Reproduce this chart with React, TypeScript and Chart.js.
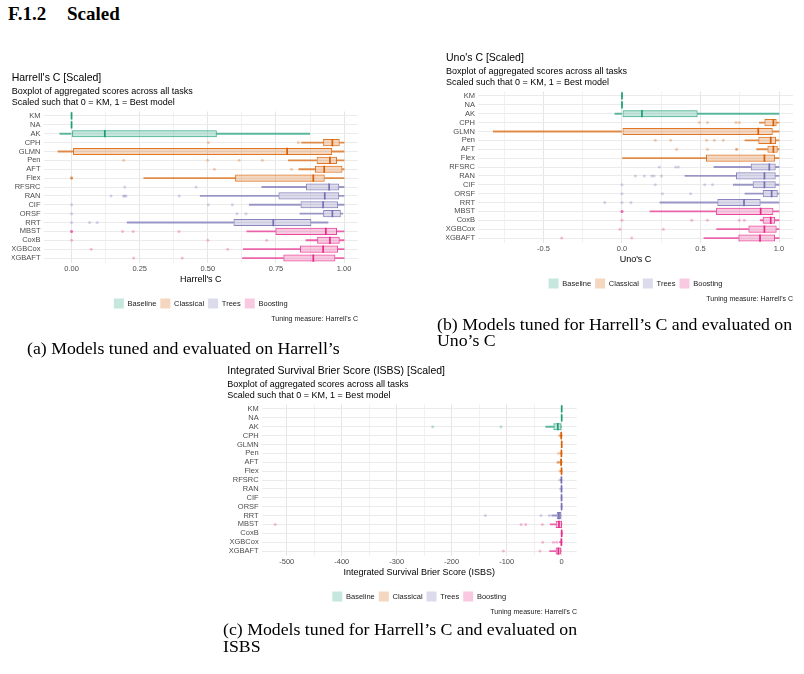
import React, { useEffect, useRef } from 'react';
import { Chart, registerables } from 'chart.js';

Chart.register(...registerables);

const SANS = "'Liberation Sans', Arial, Helvetica, sans-serif";
const SERIF = "'Liberation Serif', 'Times New Roman', serif";

// ---------- shared categories ----------
const models = ['KM', 'NA', 'AK', 'CPH', 'GLMN', 'Pen', 'AFT', 'Flex', 'RFSRC', 'RAN', 'CIF', 'ORSF', 'RRT', 'MBST', 'CoxB', 'XGBCox', 'XGBAFT'];
const modelGroups = ['Baseline', 'Baseline', 'Baseline', 'Classical', 'Classical', 'Classical', 'Classical', 'Classical', 'Trees', 'Trees', 'Trees', 'Trees', 'Trees', 'Boosting', 'Boosting', 'Boosting', 'Boosting'];
const groupNames = ['Baseline', 'Classical', 'Trees', 'Boosting'];
const groupColors = ['#1B9E77', '#D95F02', '#7570B3', '#E7298A'];

// ---------- (a) Harrell's C ----------
const harrellLow = [0, 0, -0.043, 0.844, -0.05, 0.795, 0.834, 0.265, 0.698, 0.472, 0.652, 0.838, 0.204, 0.643, 0.86, 0.63, 0.627];
const harrellQ1 = [0, 0, 0, 0.923, 0.005, 0.899, 0.893, 0.6, 0.86, 0.759, 0.84, 0.923, 0.594, 0.748, 0.901, 0.838, 0.777];
const harrellMedian = [0, 0, 0.122, 0.957, 0.791, 0.948, 0.927, 0.887, 0.945, 0.929, 0.923, 0.957, 0.74, 0.933, 0.948, 0.923, 0.887];
const harrellQ3 = [0, 0, 0.533, 0.984, 0.956, 0.974, 0.994, 0.929, 0.982, 0.982, 0.978, 0.988, 0.88, 0.974, 0.984, 0.978, 0.968];
const harrellHigh = [0, 0, 0.874, 1, 1, 1, 1, 1, 1, 1, 1, 0.995, 0.941, 1, 1, 1, 1];
const harrellOutliers = [[], [], [], [0.502, 0.832], [], [0.191, 0.499, 0.615, 0.7], [0.524, 0.807], [0, 0, 0], [0.195, 0.457], [0.145, 0.19, 0.195, 0.2, 0.395], [0, 0.502, 0.59], [0, 0.607, 0.64], [0, 0.066, 0.094], [0, 0, 0, 0.187, 0.226, 0.394], [0, 0.5, 0.716], [0.072, 0.573], [0.228, 0.406]];
const harrellMajorTicks = [0, 0.25, 0.5, 0.75, 1];
const harrellMinorTicks = [0.125, 0.375, 0.625, 0.875];
const harrellTickLabels = ['0.00', '0.25', '0.50', '0.75', '1.00'];

// ---------- (b) Uno's C ----------
const unoLow = [0, 0, -0.045, 0.875, -0.82, 0.783, 0.858, 0, 0.586, 0.401, 0.709, 0.783, 0.242, 0.178, 0.88, 0.603, 0.522];
const unoQ1 = [0, 0, 0, 0.907, 0, 0.868, 0.926, 0.535, 0.82, 0.726, 0.832, 0.896, 0.607, 0.599, 0.896, 0.805, 0.741];
const unoMedian = [0, 0, 0.127, 0.964, 0.868, 0.947, 0.964, 0.907, 0.938, 0.907, 0.907, 0.953, 0.777, 0.883, 0.947, 0.907, 0.879];
const unoQ3 = [0, 0, 0.482, 0.985, 0.96, 0.981, 0.992, 0.975, 0.979, 0.979, 0.979, 0.992, 0.883, 0.964, 0.975, 0.985, 0.975];
const unoHigh = [0, 0, 1, 1, 1, 1, 1, 1, 1, 1, 1, 1, 1, 1, 1, 1, 1];
const unoOutliers = [[], [], [], [0.493, 0.544, 0.726, 0.747], [], [0.212, 0.31, 0.539, 0.588, 0.645], [0.348, 0.544, 0.73, 0.73], [], [0.238, 0.342, 0.359], [0.085, 0.142, 0.189, 0.204, 0.251], [0, 0.212, 0.527, 0.577], [0, 0.257, 0.437], [-0.11, 0, 0.057], [0, 0, 0], [0, 0.444, 0.544, 0.747, 0.779], [-0.013, 0.263], [-0.384, 0.062]];
const unoMajorTicks = [-0.5, 0, 0.5, 1];
const unoMinorTicks = [-0.75, -0.25, 0.25, 0.75];
const unoTickLabels = ['-0.5', '0.0', '0.5', '1.0'];

// ---------- (c) ISBS ----------
const isbsLow = [0, -0.6, -29, -3, -0.5, -2.5, -3.5, -2, -2, -1, -1, -1, -18, -21, -1, -4, -22];
const isbsQ1 = [0, -0.6, -15, -2, -0.3, -1.5, -2.5, -1, -1.2, -0.8, -0.8, -0.8, -9, -11, -0.6, -2, -11];
const isbsMedian = [0, 0, -7, -0.8, 0, -0.5, -1, -0.3, -0.5, -0.3, -0.3, -0.2, -5, -5, 0, -0.5, -6];
const isbsQ3 = [0, 0.3, -0.5, 0, 0.2, 0.3, 0, 0.2, 0.2, 0.2, 0.2, 0.5, -1, 0.5, 0.5, 0.3, -1];
const isbsHigh = [0, 0.3, 0, 0.5, 0.3, 0.5, 0.5, 0.5, 0.5, 0.5, 0.5, 0.8, 0, 0.5, 0.8, 0.5, 0];
const isbsOutliers = [[], [], [-234.5, -110.3], [-4], [], [-5.5], [-7, -6], [-3.5], [-3.5], [-2], [], [], [-138.8, -37.6, -22.4], [-521, -73.9, -65.5, -35.2], [], [-34.5, -15, -9], [-106, -39.4]];
const isbsMajorTicks = [-500, -400, -300, -200, -100, 0];
const isbsMinorTicks = [-450, -350, -250, -150, -50];
const isbsTickLabels = ['-500', '-400', '-300', '-200', '-100', '0'];

const subtitleLines = ['Boxplot of aggregated scores across all tasks', 'Scaled such that 0 = KM, 1 = Best model'];

function rgba(hex: string, a: number) {
  const n = parseInt(hex.slice(1), 16);
  return `rgba(${(n >> 16) & 255},${(n >> 8) & 255},${n & 255},${a})`;
}
function rowColor(i: number) {
  return groupColors[groupNames.indexOf(modelGroups[i])];
}

type Spec = {
  title: string; axisTitle: string;
  low: number[]; q1: number[]; median: number[]; q3: number[]; high: number[]; outliers: number[][];
  min: number; max: number; major: number[]; minor: number[]; tickLabels: string[];
  padL: number; padR: number; yWidth: number;
};

function buildConfig(s: Spec): any {
  const boxData = models.map((_, i) => [s.q1[i], s.q3[i]]);
  const lowData = models.map((_, i) => [s.low[i], s.q1[i]]);
  const highData = models.map((_, i) => [s.q3[i], s.high[i]]);
  const medData = models.map((m, i) => ({ x: s.median[i], y: m }));
  const outData: any[] = [];
  const outColors: string[] = [];
  s.outliers.forEach((arr, i) => arr.forEach((v) => {
    outData.push({ x: v, y: models[i] });
    outColors.push(rgba(rowColor(i), 0.3));
  }));
  const fills = models.map((_, i) => rgba(rowColor(i), 0.25));
  const lines = models.map((_, i) => rgba(rowColor(i), 0.85));
  const whisk = models.map((_, i) => rgba(rowColor(i), 0.7));
  const solid = models.map((_, i) => rowColor(i));
  const allTicks = [...s.major, ...s.minor].sort((a, b) => a - b);

  return {
    type: 'bar',
    data: {
      labels: models,
      datasets: [
        {
          type: 'scatter', data: medData, pointStyle: 'line', pointRotation: 90, pointRadius: 3.6,
          pointBorderWidth: 1.7, pointBorderColor: solid, pointBackgroundColor: solid, showLine: false,
        },
        {
          type: 'bar', data: boxData, backgroundColor: fills, borderColor: lines, borderWidth: 1,
          borderSkipped: false, barPercentage: 0.8, categoryPercentage: 1, grouped: false,
        },
        {
          type: 'bar', data: lowData, backgroundColor: whisk, borderWidth: 0, barThickness: 1.2, grouped: false,
        },
        {
          type: 'bar', data: highData, backgroundColor: whisk, borderWidth: 0, barThickness: 1.2, grouped: false,
        },
        {
          type: 'scatter', data: outData, pointStyle: 'circle', pointRadius: 1.5, pointBorderWidth: 0,
          pointBackgroundColor: outColors, showLine: false,
        },
      ],
    },
    options: {
      indexAxis: 'y',
      responsive: false,
      animation: false,
      devicePixelRatio: 1,
      events: [],
      layout: { padding: { left: s.padL, right: s.padR, top: 0, bottom: 2.4 } },
      scales: {
        x: {
          type: 'linear', min: s.min, max: s.max,
          afterBuildTicks: (scale: any) => { scale.ticks = allTicks.map((v) => ({ value: v })); },
          ticks: {
            autoSkip: false, maxRotation: 0, padding: 2.3, color: '#4d4d4d',
            font: { family: SANS, size: 7.5 },
            callback: (v: any) => { const k = s.major.indexOf(Number(v)); return k >= 0 ? s.tickLabels[k] : ''; },
          },
          grid: {
            drawTicks: false,
            color: (ctx: any) => (ctx.tick && s.major.includes(ctx.tick.value) ? '#e6e6e6' : '#f1f1f1'),
            lineWidth: 1,
          },
          border: { display: false },
          title: {
            display: true, text: s.axisTitle, color: '#000',
            font: { family: SANS, size: 9 }, padding: { top: -2, bottom: 9.7 },
          },
        },
        y: {
          type: 'category', labels: models, offset: true,
          afterFit: (scale: any) => { scale.width = s.yWidth; },
          ticks: { autoSkip: false, padding: 3, color: '#4d4d4d', font: { family: SANS, size: 7.5 } },
          grid: { offset: false, drawTicks: false, color: '#ebebeb', lineWidth: 1 },
          border: { display: false },
        },
      },
      plugins: {
        tooltip: { enabled: false },
        title: {
          display: true, text: s.title, align: 'start', color: '#000',
          font: { family: SANS, size: 10.5, weight: 'normal', lineHeight: 1.2 },
          padding: { top: 7.7, bottom: 0 },
        },
        subtitle: {
          display: true, text: subtitleLines, align: 'start', color: '#000',
          font: { family: SANS, size: 9, weight: 'normal', lineHeight: 1.2 },
          padding: { top: 2.1, bottom: 3.5 },
        },
        legend: {
          display: true, position: 'bottom', fullSize: false, onClick: null,
          labels: {
            boxWidth: 10, boxHeight: 10, padding: 4, color: '#1a1a1a',
            font: { family: SANS, size: 7.5 },
            generateLabels: () => groupNames.map((g, i) => ({
              text: g, fillStyle: rgba(groupColors[i], 0.25), strokeStyle: 'rgba(0,0,0,0)',
              lineWidth: 0, hidden: false, fontColor: '#1a1a1a',
            })),
          },
        },
      },
    },
  };
}

const panels = [
  {
    box: { left: 0, top: 64, width: 365, height: 257 },
    spec: {
      title: "Harrell's C [Scaled]", axisTitle: "Harrell's C",
      low: harrellLow, q1: harrellQ1, median: harrellMedian, q3: harrellQ3, high: harrellHigh, outliers: harrellOutliers,
      min: -0.103, max: 1.051, major: harrellMajorTicks, minor: harrellMinorTicks, tickLabels: harrellTickLabels,
      padL: 11.7, padR: 7, yWidth: 31.8,
    },
  },
  {
    box: { left: 432, top: 44.3, width: 368, height: 257 },
    spec: {
      title: "Uno's C [Scaled]", axisTitle: "Uno's C",
      low: unoLow, q1: unoQ1, median: unoMedian, q3: unoQ3, high: unoHigh, outliers: unoOutliers,
      min: -0.917, max: 1.089, major: unoMajorTicks, minor: unoMinorTicks, tickLabels: unoTickLabels,
      padL: 14, padR: 7, yWidth: 32,
    },
  },
  {
    box: { left: 214, top: 357.3, width: 370, height: 257 },
    spec: {
      title: 'Integrated Survival Brier Score (ISBS) [Scaled]', axisTitle: 'Integrated Survival Brier Score (ISBS)',
      low: isbsLow, q1: isbsQ1, median: isbsMedian, q3: isbsQ3, high: isbsHigh, outliers: isbsOutliers,
      min: -545.5, max: 27.3, major: isbsMajorTicks, minor: isbsMinorTicks, tickLabels: isbsTickLabels,
      padL: 13.3, padR: 7.3, yWidth: 34.4,
    },
  },
];

const tuningCaptions = [
  { right: 358, top: 315 },
  { right: 793, top: 295.3 },
  { right: 577, top: 608.3 },
];

const captionStyle: React.CSSProperties = {
  position: 'absolute', fontFamily: SERIF, fontSize: 16, lineHeight: '16.8px', whiteSpace: 'nowrap',
  transform: 'scaleX(1.11)', transformOrigin: 'left top', color: '#000',
};

export default function App() {
  const refs = [useRef<HTMLCanvasElement>(null), useRef<HTMLCanvasElement>(null), useRef<HTMLCanvasElement>(null)];
  useEffect(() => {
    const charts = panels.map((p, i) => new Chart(refs[i].current as HTMLCanvasElement, buildConfig(p.spec as Spec)));
    return () => charts.forEach((c) => c.destroy());
  }, []);

  return (
    <div style={{ position: 'absolute', left: 0, top: 0, width: 804, height: 674, overflow: 'hidden', background: '#fff' }}>
      <div style={{ position: 'absolute', left: 8, top: 4, fontFamily: SERIF, fontWeight: 'bold', fontSize: 19, lineHeight: '19px' }}>F.1.2</div>
      <div style={{ position: 'absolute', left: 67, top: 4, fontFamily: SERIF, fontWeight: 'bold', fontSize: 19, lineHeight: '19px' }}>Scaled</div>
      {panels.map((p, i) => (
        <canvas
          key={i}
          ref={refs[i]}
          width={p.box.width}
          height={p.box.height}
          style={{ position: 'absolute', left: p.box.left, top: p.box.top, width: p.box.width, height: p.box.height }}
        />
      ))}
      {tuningCaptions.map((c, i) => (
        <div key={i} style={{ position: 'absolute', left: c.right - 200, width: 200, top: c.top, textAlign: 'right', fontFamily: SANS, fontSize: 7, lineHeight: '8px', color: '#1a1a1a' }}>
          Tuning measure: Harrell's C
        </div>
      ))}
      <div style={{ ...captionStyle, left: 27, top: 341.2 }}>(a) Models tuned and evaluated on Harrell’s</div>
      <div style={{ ...captionStyle, left: 437, top: 316.7 }}>(b) Models tuned for Harrell’s C and evaluated on<br />Uno’s C</div>
      <div style={{ ...captionStyle, left: 223.3, top: 622.2 }}>(c) Models tuned for Harrell’s C and evaluated on<br />ISBS</div>
    </div>
  );
}
